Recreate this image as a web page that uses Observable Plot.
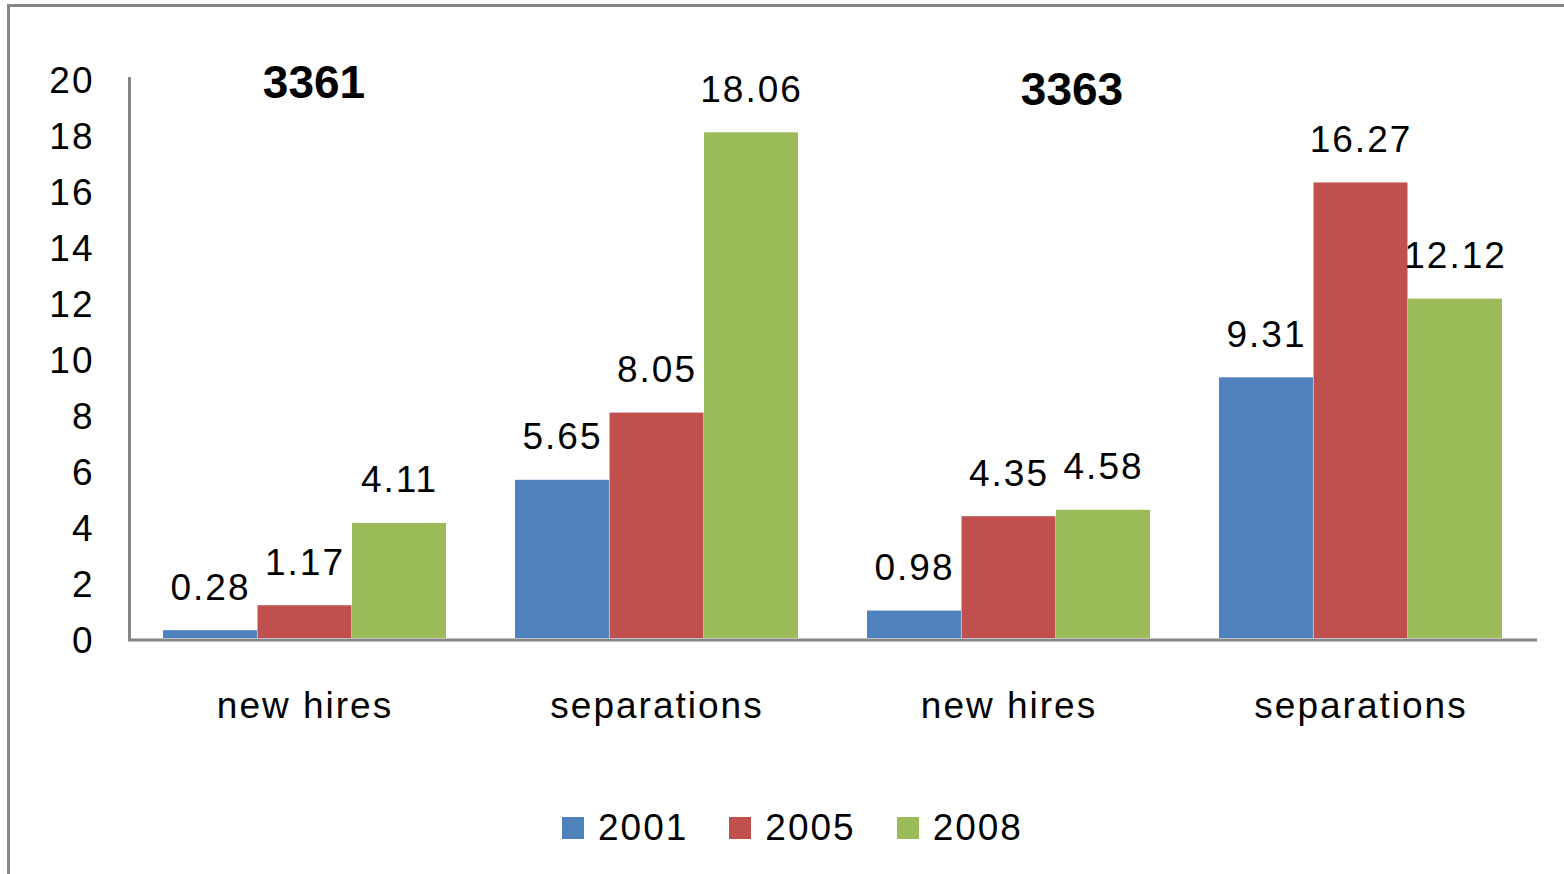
<!DOCTYPE html>
<html>
<head>
<meta charset="utf-8">
<script src="https://cdn.jsdelivr.net/npm/d3@7"></script>
<script src="https://cdn.jsdelivr.net/npm/@observablehq/plot@0.6"></script>
<style>
  html, body { margin: 0; padding: 0; background: #fff; }
  #wrap { position: relative; width: 1564px; height: 874px; overflow: hidden; background: #fff; }
  #border { position: absolute; left: 7px; top: 4px; width: 1600px; height: 900px;
            border-top: 3px solid #868686; border-left: 3px solid #868686; }
  #chart { position: absolute; left: 0; top: 0; }
  #chart svg { overflow: visible; }
  #chart g[font-weight="bold"] text { letter-spacing: 0 !important; }
  #legend { position: absolute; left: 562px; top: 806px; height: 44px; display: flex; align-items: center;
            font-family: "Liberation Sans", Arial, sans-serif; font-size: 37px; letter-spacing: 2px; color: #000; }
  .item { display: flex; align-items: center; margin-right: 41px; }
  .sw { width: 22px; height: 22px; margin-right: 14px; }
</style>
</head>
<body>
<div id="wrap">
  <div id="border"></div>
  <div id="chart"></div>
  <div id="legend"></div>
</div>
<script>
// ---- data ----
const industries = ["3361", "3361", "3363", "3363"];
const measures = ["new hires", "separations", "new hires", "separations"];
const years = ["2001", "2005", "2008"];
const values2001 = [0.28, 5.65, 0.98, 9.31];
const values2005 = [1.17, 8.05, 4.35, 16.27];
const values2008 = [4.11, 18.06, 4.58, 12.12];
const yTicks = [0, 2, 4, 6, 8, 10, 12, 14, 16, 18, 20];
const titles = ["3361", "3363"];
const colors = ["#4F81BD", "#C0504D", "#9BBB59"];

const keys = industries.map((ind, i) => ind + " " + measures[i] + " " + i);
const labelOf = new Map(keys.map((k, i) => [k, measures[i]]));
const seriesVals = [values2001, values2005, values2008];
const rows = [];
years.forEach((y, yi) => keys.forEach((k, i) => rows.push({key: k, year: y, value: seriesVals[yi][i]})));

// ---- layout ----
const W = 1564, H = 800;
const mL = 128, mR = 27, mT = 78, mB = 162;
const pIn = 0.195, pOut = pIn / 2;
const step = (W - mL - mR) / (keys.length - pIn + 2 * pOut);
const bw = step * (1 - pIn) / years.length;
const font = '"Liberation Sans", Arial, sans-serif';
const fmt = d3.format(".2f");

const marks = [];
years.forEach((y, i) => {
  const sub = rows.filter(d => d.year === y);
  marks.push(Plot.barY(sub, {x: "key", y: "value", fill: colors[i],
    insetLeft: i * bw, insetRight: (years.length - 1 - i) * bw}));
  marks.push(Plot.text(sub, {x: "key", y: "value", text: d => fmt(d.value),
    dx: (i - 1) * bw, dy: -31, lineAnchor: "bottom", fontSize: 37, fill: "#000"}));
});

const chart = Plot.plot({
  width: W, height: H,
  marginLeft: mL, marginRight: mR, marginTop: mT, marginBottom: mB,
  style: {fontFamily: font, fontSize: "37px", letterSpacing: "2px", color: "#000", background: "transparent"},
  x: {type: "band", domain: keys, paddingInner: pIn, paddingOuter: pOut, align: 0.5},
  y: {domain: [0, 20]},
  marks: [
    Plot.axisY({ticks: yTicks, tickSize: 0, tickPadding: 34, fontSize: 37, label: null, dy: 3, tickFormat: d => String(d)}),
    Plot.axisX({tickSize: 0, tickPadding: 53, fontSize: 37, label: null, tickFormat: k => labelOf.get(k)}),
    ...marks,
    Plot.ruleY([0], {stroke: "#868686", strokeWidth: 3, dy: 1.5}),
    Plot.frame({anchor: "left", stroke: "#868686", strokeWidth: 3, dx: 1}),
    Plot.text([titles[0]], {x: [keys[0]], text: d => d, frameAnchor: "top", lineAnchor: "middle", dx: 9, dy: 5,
      fontWeight: "bold", fontSize: 46, fill: "#000"}),
    Plot.text([titles[1]], {x: [keys[2]], text: d => d, frameAnchor: "top", lineAnchor: "middle", dx: 63, dy: 12,
      fontWeight: "bold", fontSize: 46, fill: "#000"})
  ]
});
document.getElementById("chart").appendChild(chart);

const legend = document.getElementById("legend");
years.forEach((y, i) => {
  const it = document.createElement("div");
  it.className = "item";
  const sw = document.createElement("div");
  sw.className = "sw";
  sw.style.background = colors[i];
  const t = document.createElement("span");
  t.textContent = y;
  it.appendChild(sw); it.appendChild(t);
  legend.appendChild(it);
});
</script>
</body>
</html>
